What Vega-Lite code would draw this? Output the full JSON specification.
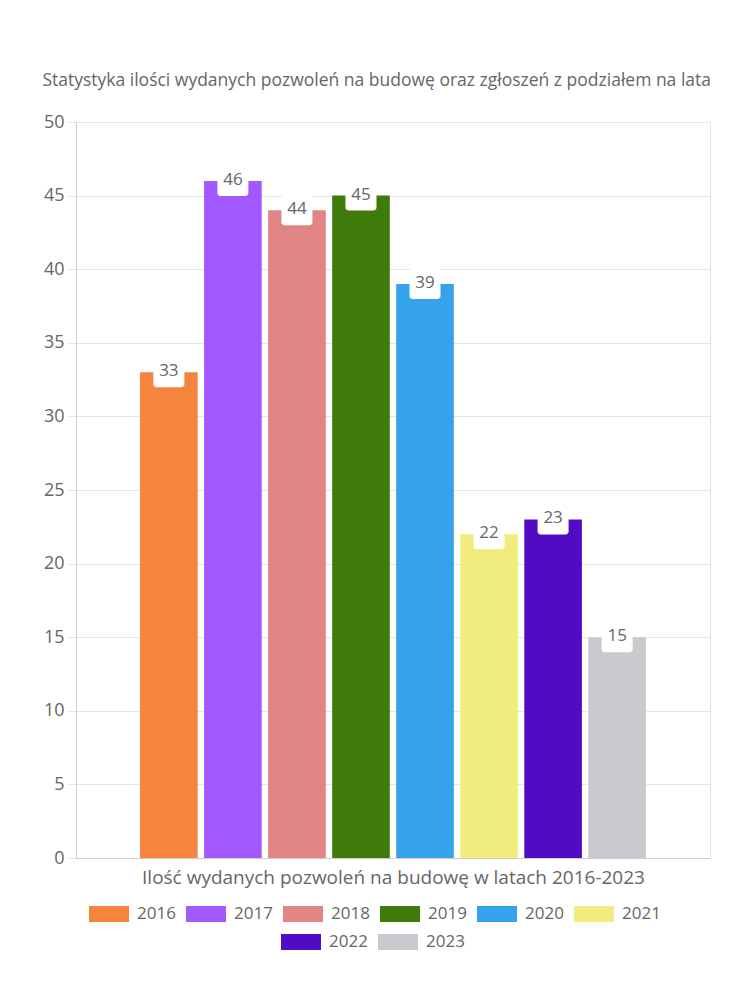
{
  "$schema": "https://vega.github.io/schema/vega-lite/v6.json",
  "width": 634,
  "height": 736,
  "autosize": {"type": "none"},
  "padding": {"left": 76, "top": 122, "right": 40, "bottom": 142},
  "background": "white",
  "config": {"font": "Open Sans", "view": {"stroke": "#e5e5e5"}},
  "title": {"text": "Statystyka ilości wydanych pozwoleń na budowę oraz zgłoszeń z podziałem na lata", "fontSize": 17.5, "fontWeight": "normal", "color": "#666", "anchor": "middle", "frame": "bounds", "offset": 24},
  "data": {"values": [
    {"rok": "2016", "wartosc": 33},
    {"rok": "2017", "wartosc": 46},
    {"rok": "2018", "wartosc": 44},
    {"rok": "2019", "wartosc": 45},
    {"rok": "2020", "wartosc": 39},
    {"rok": "2021", "wartosc": 22},
    {"rok": "2022", "wartosc": 23},
    {"rok": "2023", "wartosc": 15}
  ]},
  "encoding": {
    "x": {"field": "rok", "type": "nominal", "scale": {"paddingInner": 0.1, "paddingOuter": 1.05},
      "axis": {"title": "Ilość wydanych pozwoleń na budowę w latach 2016-2023", "titleFontSize": 19, "titleFontWeight": "normal", "titleColor": "#666", "titlePadding": 10, "labels": false, "ticks": false, "domainColor": "#ccc", "grid": false}},
    "y": {"field": "wartosc", "type": "quantitative", "scale": {"domain": [0, 50]},
      "axis": {"title": null, "values": [0,5,10,15,20,25,30,35,40,45,50], "labelFontSize": 18, "labelColor": "#666", "tickSize": 8, "tickColor": "#e5e5e5", "gridColor": "#e5e5e5", "domainColor": "#ccc", "labelPadding": 4}}
  },
  "layer": [
    {"transform": [{"filter": "datum.rok <= '2021'"}], "mark": "bar",
      "encoding": {"color": {"field": "rok", "type": "nominal",
        "scale": {"domain": ["2016","2017","2018","2019","2020","2021"], "range": ["#f5843f","#a259ff","#e18484","#3f7b0b","#36a2eb","#f0ec7d"]},
        "legend": {"orient": "none", "legendX": 13, "legendY": 772, "direction": "horizontal", "title": null, "padding": 0, "symbolType": "M-1,-0.4H1V0.4H-1Z", "symbolSize": 1600, "symbolStrokeWidth": 0, "labelFontSize": 17, "labelColor": "#666", "labelOffset": 8, "columnPadding": 10}}}},
    {"transform": [{"filter": "datum.rok >= '2022'"}], "mark": "bar",
      "encoding": {"fill": {"field": "rok", "type": "nominal",
        "scale": {"domain": ["2022","2023"], "range": ["#510cc3","#c9cace"]},
        "legend": {"orient": "none", "legendX": 205, "legendY": 800, "direction": "horizontal", "title": null, "padding": 0, "symbolType": "M-1,-0.4H1V0.4H-1Z", "symbolSize": 1600, "symbolStrokeWidth": 0, "labelFontSize": 17, "labelColor": "#666", "labelOffset": 8, "columnPadding": 10}}}},
    {"mark": {"type": "bar", "fill": "white", "width": 31, "cornerRadius": 3, "yOffset": -16, "y2Offset": 15},
      "encoding": {"y2": {"field": "wartosc"}}},
    {"mark": {"type": "text", "fontSize": 17, "color": "#666", "baseline": "middle", "align": "center", "dy": -1},
      "encoding": {"text": {"field": "wartosc", "type": "quantitative"}}}
  ]
}
